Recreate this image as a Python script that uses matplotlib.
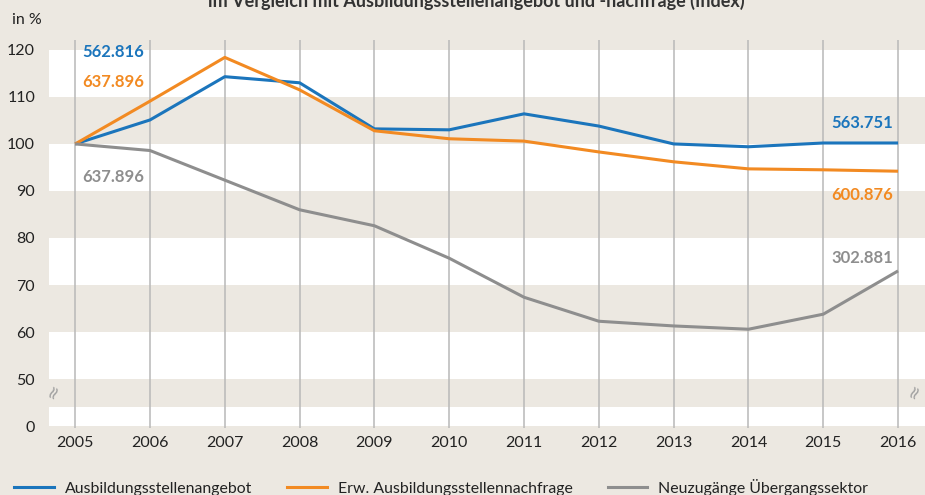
import matplotlib.pyplot as plt
from matplotlib.lines import Line2D

plt.rcParams['font.family'] = ['Lato', 'DejaVu Sans']

years = [2005, 2006, 2007, 2008, 2009, 2010, 2011, 2012, 2013, 2014, 2015, 2016]
angebot = [100, 105.1, 114.3, 113.0, 103.2, 103.0, 106.4, 103.8, 100.0, 99.4, 100.2, 100.2]
nachfrage = [100, 109.1, 118.4, 111.5, 102.8, 101.1, 100.6, 98.3, 96.2, 94.7, 94.5, 94.2]
uebergang = [100, 98.6, 92.3, 86.0, 82.6, 75.7, 67.4, 62.3, 61.3, 60.6, 63.8, 73.0]

series_names = ['Ausbildungsstellenangebot', 'Erw. Ausbildungsstellennachfrage',
                'Neuzugänge Übergangssektor']
start_labels = ['562.816', '637.896', '637.896']
end_labels = ['563.751', '600.876', '302.881']

ytick_vals = [40, 50, 60, 70, 80, 90, 100, 110, 120]   # 40 stands for the broken axis "0"
ytick_text = ['0', '50', '60', '70', '80', '90', '100', '110', '120']

title = 'im Vergleich mit Ausbildungsstellenangebot und -nachfrage (Index)'

bg = '#ece8e1'
blue = '#1b75bc'
orange = '#f28a22'
gray = '#8e8e8e'
colors = [blue, orange, gray]

fig = plt.figure(figsize=(9.25, 4.95), dpi=100, facecolor=bg)
ax = fig.add_axes([49 / 925, 1 - 428 / 495, 1 - 49 / 925, 388 / 495])
ax.set_facecolor(bg)

# alternating bands
ax.axhspan(110, 120, color='white', zorder=0, lw=0)
ax.axhspan(90, 100, color='white', zorder=0, lw=0)
ax.axhspan(70, 80, color='white', zorder=0, lw=0)
ax.axhspan(50, 60, color='white', zorder=0, lw=0)
ax.axhspan(40, 44, color='white', zorder=0, lw=0)

for y in years:
    ax.axvline(y, color='#b8b8b8', lw=1.1, zorder=1)

for vals, c, name in zip([angebot, nachfrage, uebergang], colors, series_names):
    ax.plot(years, vals, color=c, lw=2.2, label=name, zorder=3, solid_capstyle='butt')

ax.set_xlim(2004.65, 2016.36)
ax.set_ylim(39.6, 122.1)
ax.set_yticks(ytick_vals)
ax.set_yticklabels(ytick_text)
ax.set_xticks(years)
ax.tick_params(length=0, labelsize=11.5, colors='#222222', pad=6)
ax.tick_params(axis='y', pad=10)
for s in ax.spines.values():
    s.set_visible(False)

# value labels
lab_kw = dict(fontsize=12, fontweight='bold', va='center')
ax.text(2005.1, 119.6, start_labels[0], color=blue, ha='left', **lab_kw)
ax.text(2005.1, 113.2, start_labels[1], color=orange, ha='left', **lab_kw)
ax.text(2005.1, 93.0, start_labels[2], color=gray, ha='left', **lab_kw)
ax.text(2015.93, 104.5, end_labels[0], color=blue, ha='right', **lab_kw)
ax.text(2015.93, 89.1, end_labels[1], color=orange, ha='right', **lab_kw)
ax.text(2015.93, 75.7, end_labels[2], color=gray, ha='right', **lab_kw)

# axis break marks
for xb in [2004.71, 2016.22]:
    ax.text(xb, 47.2, '≈', rotation=65, color='#a0a0a0', fontsize=13,
            ha='center', va='center', family='DejaVu Sans')

fig.text(12 / 925, 1 - 20 / 495, 'in %', fontsize=11.5, color='#222222', va='center')
fig.text(0.515, 1 - 1 / 495, title, fontsize=13, fontweight='bold', color='#333333',
         ha='center', va='center')

handles = [Line2D([], [], color=c, lw=2.2) for c in colors]
fig.legend(handles, series_names, loc='lower left', bbox_to_anchor=(0.0, -0.03),
           ncol=3, frameon=False, fontsize=11.4, handlelength=2.5, handletextpad=0.7,
           columnspacing=2.2, labelcolor='#222222')

fig.savefig('out.png', dpi=100, facecolor=bg)
